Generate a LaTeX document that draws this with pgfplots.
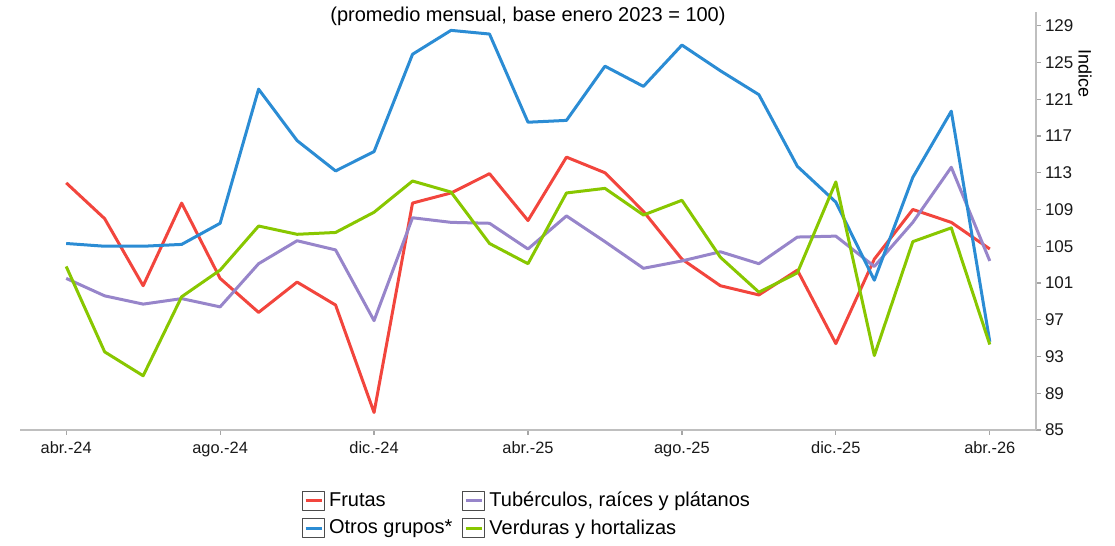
\documentclass[border=0pt]{standalone}
\usepackage{fontspec}
\setmainfont{Liberation Sans}
\usepackage{pgfplots}
\usepackage{pgfplotstable}
\pgfplotsset{compat=1.18}
\definecolor{cRed}{HTML}{F2453D}
\definecolor{cBlue}{HTML}{2B8CD4}
\definecolor{cPurple}{HTML}{9785CA}
\definecolor{cGreen}{HTML}{88C700}
\pgfplotstableread{
i fr og tu ve
0 111.9 105.3 101.5 102.8
1 108.0 105.0 99.6 93.5
2 100.7 105.0 98.7 90.9
3 109.7 105.2 99.3 99.5
4 101.5 107.5 98.4 102.4
5 97.8 122.1 103.1 107.2
6 101.1 116.5 105.6 106.3
7 98.6 113.2 104.6 106.5
8 86.9 115.3 96.9 108.7
9 109.7 125.9 108.1 112.1
10 110.8 128.5 107.6 110.9
11 112.9 128.1 107.5 105.3
12 107.8 118.5 104.7 103.1
13 114.7 118.7 108.3 110.8
14 113.0 124.6 105.5 111.3
15 108.8 122.4 102.6 108.4
16 103.6 126.9 103.4 110.0
17 100.7 124.1 104.4 103.8
18 99.7 121.5 103.1 100.0
19 102.4 113.7 106.0 102.1
20 94.4 109.8 106.1 112.0
21 103.6 101.3 102.8 93.1
22 109.0 112.5 107.6 105.5
23 107.6 119.7 113.6 107.0
24 104.7 94.6 103.4 94.3
}\datatable
\begin{document}
\begin{tikzpicture}
\begin{axis}[
  scale only axis, width=508pt, height=209pt,
  xmin=-1.2, xmax=25.2, ymin=85, ymax=130.5,
  axis x line*=bottom, axis y line*=right,
  axis line style={draw=black!25, line width=0.7pt},
  xtick={0,4,...,24},
  xticklabels={abr.-24,ago.-24,dic.-24,abr.-25,ago.-25,dic.-25,abr.-26},
  ytick={85,89,...,129},
  tick style={draw=black!35, line width=0.6pt},
  major tick length=2.5pt, tick align=outside,
  tick label style={text=black!90},
  xticklabel style={font=\fontsize{8.2}{9}\selectfont},
  yticklabel style={font=\fontsize{8.5}{9}\selectfont, xshift=-1.5pt},
  /pgf/number format/assume math mode=true,
  title={(promedio mensual, base enero 2023 = 100)},
  every axis title/.style={at={(0.5,1)}, anchor=center, yshift=-2.25pt, font=\fontsize{10}{12}\selectfont},
  ylabel={Indice},
  every axis y label/.style={at={(rel axis cs:1,0.854)}, xshift=24.5pt, anchor=center, rotate=-90, font=\fontsize{9}{10}\selectfont},
  legend columns=2,
  legend cell align=left,
  legend style={at={(0.5,-0.128)}, anchor=north, draw=none, fill=none,
    font=\fontsize{10}{12}\selectfont, row sep=1pt,
    /tikz/every even column/.append style={column sep=3pt}},
  legend image code/.code={
    \draw[#1, line width=1.5pt] (1.5pt,0pt) -- (9.5pt,0pt);
    \draw[black!70, line width=0.5pt] (0pt,-4.75pt) rectangle (11pt,4.75pt);
  },
  every axis plot/.append style={line width=1.5pt, line join=round},
]
\addplot[cRed] table[x=i, y=fr] {\datatable};
\addlegendentry{Frutas}
\addplot[cPurple] table[x=i, y=tu] {\datatable};
\addlegendentry{Tubérculos, raíces y plátanos}
\addplot[cBlue] table[x=i, y=og] {\datatable};
\addlegendentry{Otros grupos*}
\addplot[cGreen] table[x=i, y=ve] {\datatable};
\addlegendentry{Verduras y hortalizas}
\coordinate (bl) at (rel axis cs:-0.0197,-0.2608);
\coordinate (tr) at (rel axis cs:1.0778,1.0287);
\end{axis}
\path (bl) rectangle (tr);
\end{tikzpicture}
\end{document}
